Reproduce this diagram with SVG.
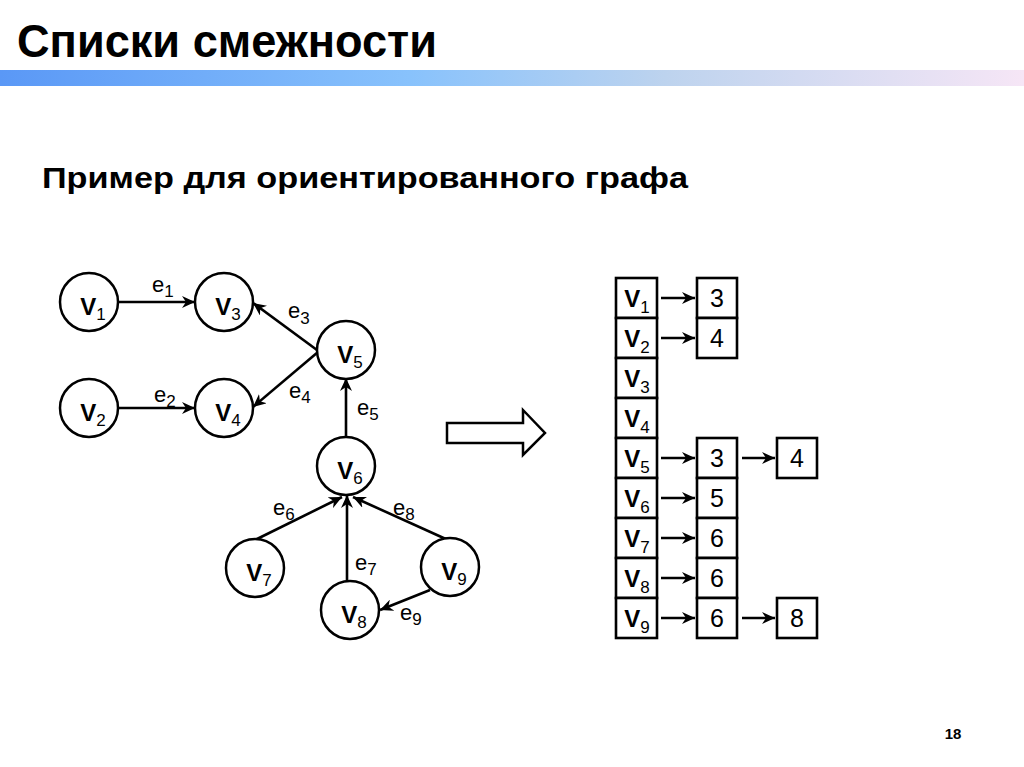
<svg xmlns="http://www.w3.org/2000/svg" width="1024" height="767" viewBox="0 0 1024 767">
<style>
text{font-family:"Liberation Sans",Arial,sans-serif;fill:#000}
.node circle{fill:#fff;stroke:#000;stroke-width:2.5}
.vl{font-weight:bold;font-size:24px}
.sub{font-weight:normal;font-size:17px}
.el{font-size:22px}
.es{font-size:17px}
.edge{stroke:#000;stroke-width:2.6;fill:none}
.cell rect{fill:#fff;stroke:#000;stroke-width:2.6}
.num{font-size:25px}
</style>
<defs>
<linearGradient id="bar" x1="0" y1="0" x2="1" y2="0">
<stop offset="0" stop-color="#5a98f6"/>
<stop offset="0.4" stop-color="#88c2fc"/>
<stop offset="0.65" stop-color="#bdd3ee"/>
<stop offset="1" stop-color="#f6e6f6"/>
</linearGradient>
<marker id="arr" markerUnits="userSpaceOnUse" markerWidth="14" markerHeight="12" refX="13" refY="6" orient="auto">
<path d="M0,0 L13,6 L0,12 L4,6 z" fill="#000"/>
</marker>
</defs>
<rect width="1024" height="767" fill="#fff"/>
<text x="17" y="57" font-size="47" font-weight="bold" textLength="420" lengthAdjust="spacingAndGlyphs">Списки смежности</text>
<rect x="0" y="70" width="1024" height="16" fill="url(#bar)"/>
<text x="42" y="188" font-size="29" font-weight="bold" textLength="646" lengthAdjust="spacingAndGlyphs">Пример для ориентированного графа</text>

<g id="connectors">
<line class="edge" x1="118" y1="302" x2="195" y2="302" marker-end="url(#arr)"/>
<line class="edge" x1="118" y1="408" x2="195" y2="408" marker-end="url(#arr)"/>
<line class="edge" x1="317" y1="350" x2="253" y2="303" marker-end="url(#arr)"/>
<line class="edge" x1="318" y1="352" x2="253" y2="407" marker-end="url(#arr)"/>
<line class="edge" x1="346" y1="438" x2="346" y2="378" marker-end="url(#arr)"/>
<line class="edge" x1="255" y1="540" x2="342" y2="497" marker-end="url(#arr)"/>
<line class="edge" x1="347" y1="582" x2="347" y2="495" marker-end="url(#arr)"/>
<line class="edge" x1="448" y1="540" x2="353" y2="497" marker-end="url(#arr)"/>
<line class="edge" x1="430" y1="590" x2="380" y2="610" marker-end="url(#arr)"/>
<line class="edge" x1="661" y1="298" x2="695" y2="298" marker-end="url(#arr)"/>
<line class="edge" x1="661" y1="338" x2="695" y2="338" marker-end="url(#arr)"/>
<line class="edge" x1="661" y1="458" x2="695" y2="458" marker-end="url(#arr)"/>
<line class="edge" x1="742" y1="458" x2="775" y2="458" marker-end="url(#arr)"/>
<line class="edge" x1="661" y1="498" x2="695" y2="498" marker-end="url(#arr)"/>
<line class="edge" x1="661" y1="538" x2="695" y2="538" marker-end="url(#arr)"/>
<line class="edge" x1="661" y1="578" x2="695" y2="578" marker-end="url(#arr)"/>
<line class="edge" x1="661" y1="618" x2="695" y2="618" marker-end="url(#arr)"/>
<line class="edge" x1="742" y1="618" x2="775" y2="618" marker-end="url(#arr)"/>
</g>

<g id="edge-labels">
<text class="el" x="152" y="292">e<tspan class="es" dy="5">1</tspan></text>
<text class="el" x="154" y="402">e<tspan class="es" dy="5">2</tspan></text>
<text class="el" x="288" y="318">e<tspan class="es" dy="6">3</tspan></text>
<text class="el" x="289" y="398">e<tspan class="es" dy="5">4</tspan></text>
<text class="el" x="357" y="415">e<tspan class="es" dy="5">5</tspan></text>
<text class="el" x="273" y="515">e<tspan class="es" dy="5">6</tspan></text>
<text class="el" x="355" y="570">e<tspan class="es" dy="5">7</tspan></text>
<text class="el" x="393" y="515">e<tspan class="es" dy="5">8</tspan></text>
<text class="el" x="400" y="620">e<tspan class="es" dy="5">9</tspan></text>
</g>

<g id="v1" class="node"><circle cx="89" cy="302" r="29"/><text class="vl" x="93" y="315" text-anchor="middle">V<tspan class="sub" dy="5">1</tspan></text></g>
<g id="v2" class="node"><circle cx="89" cy="408" r="29"/><text class="vl" x="93" y="421" text-anchor="middle">V<tspan class="sub" dy="5">2</tspan></text></g>
<g id="v3" class="node"><circle cx="224" cy="302" r="29"/><text class="vl" x="228" y="315" text-anchor="middle">V<tspan class="sub" dy="5">3</tspan></text></g>
<g id="v4" class="node"><circle cx="224" cy="408" r="29"/><text class="vl" x="228" y="421" text-anchor="middle">V<tspan class="sub" dy="5">4</tspan></text></g>
<g id="v5" class="node"><circle cx="346" cy="350" r="29"/><text class="vl" x="350" y="363" text-anchor="middle">V<tspan class="sub" dy="5">5</tspan></text></g>
<g id="v6" class="node"><circle cx="346" cy="466" r="29"/><text class="vl" x="350" y="479" text-anchor="middle">V<tspan class="sub" dy="5">6</tspan></text></g>
<g id="v7" class="node"><circle cx="255" cy="568" r="29"/><text class="vl" x="259" y="581" text-anchor="middle">V<tspan class="sub" dy="5">7</tspan></text></g>
<g id="v8" class="node"><circle cx="350" cy="610" r="29"/><text class="vl" x="354" y="623" text-anchor="middle">V<tspan class="sub" dy="5">8</tspan></text></g>
<g id="v9" class="node"><circle cx="450" cy="567" r="29"/><text class="vl" x="454" y="580" text-anchor="middle">V<tspan class="sub" dy="5">9</tspan></text></g>

<g id="big-arrow"><polygon points="447,423 523,423 523,410 545,433 523,455 523,443 447,443" fill="#fff" stroke="#000" stroke-width="2.5"/></g>

<g id="list-heads" class="cell">
<rect x="616" y="278" width="41" height="40"/><text class="vl" x="637" y="307" text-anchor="middle">V<tspan class="sub" dy="6">1</tspan></text>
<rect x="616" y="318" width="41" height="40"/><text class="vl" x="637" y="347" text-anchor="middle">V<tspan class="sub" dy="6">2</tspan></text>
<rect x="616" y="358" width="41" height="40"/><text class="vl" x="637" y="387" text-anchor="middle">V<tspan class="sub" dy="6">3</tspan></text>
<rect x="616" y="398" width="41" height="40"/><text class="vl" x="637" y="427" text-anchor="middle">V<tspan class="sub" dy="6">4</tspan></text>
<rect x="616" y="438" width="41" height="40"/><text class="vl" x="637" y="467" text-anchor="middle">V<tspan class="sub" dy="6">5</tspan></text>
<rect x="616" y="478" width="41" height="40"/><text class="vl" x="637" y="507" text-anchor="middle">V<tspan class="sub" dy="6">6</tspan></text>
<rect x="616" y="518" width="41" height="40"/><text class="vl" x="637" y="547" text-anchor="middle">V<tspan class="sub" dy="6">7</tspan></text>
<rect x="616" y="558" width="41" height="40"/><text class="vl" x="637" y="587" text-anchor="middle">V<tspan class="sub" dy="6">8</tspan></text>
<rect x="616" y="598" width="41" height="40"/><text class="vl" x="637" y="627" text-anchor="middle">V<tspan class="sub" dy="6">9</tspan></text>
</g>

<g id="list-cells" class="cell">
<rect x="697" y="278" width="40" height="40"/><text class="num" x="717" y="307" text-anchor="middle">3</text>
<rect x="697" y="318" width="40" height="40"/><text class="num" x="717" y="347" text-anchor="middle">4</text>
<rect x="697" y="438" width="40" height="40"/><text class="num" x="717" y="467" text-anchor="middle">3</text>
<rect x="777" y="438" width="40" height="40"/><text class="num" x="797" y="467" text-anchor="middle">4</text>
<rect x="697" y="478" width="40" height="40"/><text class="num" x="717" y="507" text-anchor="middle">5</text>
<rect x="697" y="518" width="40" height="40"/><text class="num" x="717" y="547" text-anchor="middle">6</text>
<rect x="697" y="558" width="40" height="40"/><text class="num" x="717" y="587" text-anchor="middle">6</text>
<rect x="697" y="598" width="40" height="40"/><text class="num" x="717" y="627" text-anchor="middle">6</text>
<rect x="777" y="598" width="40" height="40"/><text class="num" x="797" y="627" text-anchor="middle">8</text>
</g>

<text x="953" y="739" font-size="15" font-weight="bold" text-anchor="middle">18</text>
</svg>
